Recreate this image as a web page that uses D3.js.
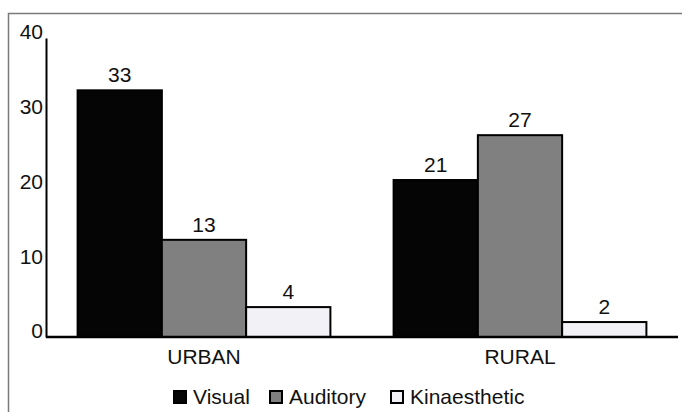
<!DOCTYPE html>
<html>
<head>
<meta charset="utf-8">
<script src="https://cdn.jsdelivr.net/npm/d3@7"></script>
<style>
  html, body { margin: 0; padding: 0; background: #fff; }
  svg { display: block; font-family: "Liberation Sans", Arial, sans-serif; }
</style>
</head>
<body>
<svg id="chart" width="682" height="412"></svg>
<script>
// Learning-style counts by area
const categories = ["URBAN", "RURAL"];
const seriesNames = ["Visual", "Auditory", "Kinaesthetic"];
const visual = [33, 21];
const auditory = [13, 27];
const kinaesthetic = [4, 2];
const yTicks = [0, 10, 20, 30, 40];

const seriesValues = [visual, auditory, kinaesthetic];
const fills = ["#050505", "#808080", "#f2f2f6"];
const FONT = 21;

const svg = d3.select("#chart");
const W = 682, H = 412;

// outer frame
svg.append("rect")
  .attr("x", 8.5).attr("y", 13.5)
  .attr("width", W + 20).attr("height", H + 20)
  .attr("fill", "none").attr("stroke", "#7a7a7a").attr("stroke-width", 1.5);

const plotLeft = 46, plotRight = 678, plotTop = 38, plotBottom = 337;

const x0 = d3.scaleBand().domain(categories).range([plotLeft, plotRight])
  .paddingInner(0.2).paddingOuter(0.1);
const x1 = d3.scaleBand().domain(seriesNames).range([0, x0.bandwidth()]);
const y = d3.scaleLinear().domain([0, 40]).range([plotBottom, plotTop]);

const rows = categories.map((c, i) => ({
  cat: c,
  vals: seriesNames.map((s, j) => ({ key: s, idx: j, value: seriesValues[j][i] }))
}));

const groups = svg.append("g").selectAll("g").data(rows).join("g")
  .attr("transform", d => `translate(${x0(d.cat)},0)`);

groups.selectAll("rect").data(d => d.vals).join("rect")
  .attr("x", d => x1(d.key))
  .attr("y", d => y(d.value))
  .attr("width", x1.bandwidth())
  .attr("height", d => y(0) - y(d.value))
  .attr("fill", d => fills[d.idx])
  .attr("stroke", "#000").attr("stroke-width", 2);

groups.selectAll("text").data(d => d.vals).join("text")
  .attr("x", d => x1(d.key) + x1.bandwidth() / 2)
  .attr("y", d => y(d.value) - 8)
  .attr("text-anchor", "middle")
  .attr("font-size", FONT).attr("fill", "#111")
  .text(d => d.value);

// y axis: line with labels, no tick marks
const yAxis = d3.axisLeft(y).tickValues(yTicks).tickSize(0).tickPadding(3);
const gy = svg.append("g").attr("transform", `translate(${plotLeft},0)`).call(yAxis);
gy.select(".domain").attr("stroke", "#000").attr("stroke-width", 2);
gy.selectAll("text")
  .attr("font-size", FONT).attr("font-family", "Liberation Sans, Arial, sans-serif")
  .attr("fill", "#111").attr("dy", "-0.1em")
  .attr("y", 3);

// x baseline and category labels
const xAxis = d3.axisBottom(x0).tickSize(0).tickPadding(12);
const gx = svg.append("g").attr("transform", `translate(0,${plotBottom})`).call(xAxis);
gx.select(".domain").attr("d", `M${plotLeft},0H${plotRight}`).attr("stroke", "#000").attr("stroke-width", 2.5);
gx.selectAll("text")
  .attr("font-size", FONT).attr("font-family", "Liberation Sans, Arial, sans-serif")
  .attr("fill", "#111").attr("dy", "0.71em");

// legend
const legendItems = seriesNames.map((s, i) => ({ name: s, fill: fills[i] }));
const lg = svg.append("g");
const legendX = [174, 270, 391];
legendItems.forEach((d, i) => {
  const g = lg.append("g").attr("transform", `translate(${legendX[i]},391)`);
  g.append("rect").attr("x", 0).attr("y", 0).attr("width", 12).attr("height", 12)
    .attr("fill", d.fill).attr("stroke", "#000").attr("stroke-width", 2);
  g.append("text").attr("x", 19).attr("y", 13)
    .attr("font-size", FONT).attr("fill", "#111").text(d.name);
});
</script>
</body>
</html>
